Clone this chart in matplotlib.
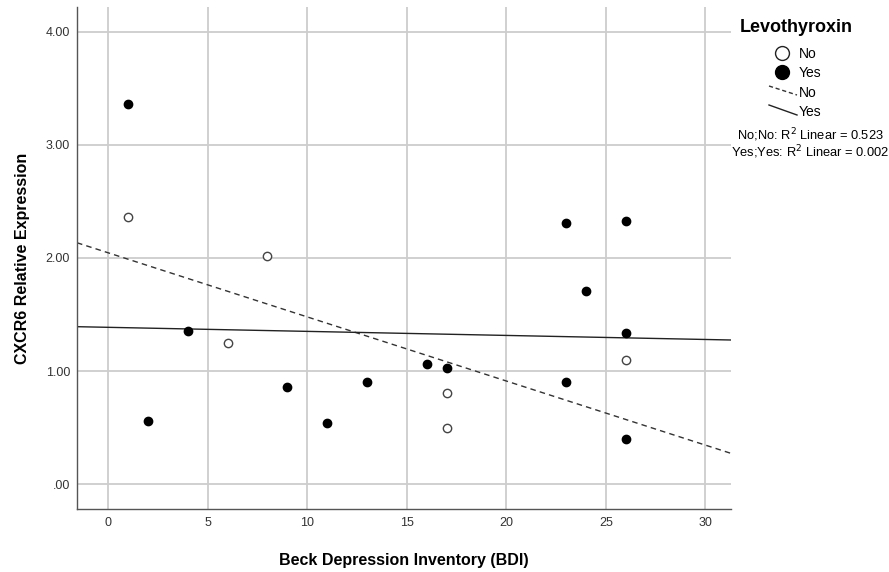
import numpy as np
import matplotlib.pyplot as plt
from matplotlib.lines import Line2D

plt.rcParams['font.family'] = ['Liberation Sans', 'DejaVu Sans']

# BDI score and CXCR6 expression, split by levothyroxin use
bdi_no = [1, 6, 8, 17, 17, 26]
cxcr6_no = [2.36, 1.245, 2.02, 0.81, 0.495, 1.095]

bdi_yes = [1, 2, 4, 9, 11, 13, 16, 17, 23, 23, 24, 26, 26, 26]
cxcr6_yes = [3.36, 0.555, 1.35, 0.855, 0.54, 0.90, 1.06, 1.025, 2.31, 0.90, 1.705, 2.33, 1.335, 0.40]

r2_labels = ['No;No: R$^2$ Linear = 0.523', 'Yes;Yes: R$^2$ Linear = 0.002']

x_ticks = [0, 5, 10, 15, 20, 25, 30]
y_ticks = [0, 1, 2, 3, 4]
y_ticklabels = ['.00', '1.00', '2.00', '3.00', '4.00']

fig = plt.figure(figsize=(8.89, 5.72), dpi=100)
ax = fig.add_axes([0.0866, 0.110, 0.736, 0.878])

xmin, xmax = -1.56, 31.3
ax.set_xlim(xmin, xmax)
ax.set_ylim(-0.22, 4.22)

ax.grid(True, color='#cdcdcd', linewidth=1.3)
ax.set_axisbelow(True)
for side in ['top', 'right']:
    ax.spines[side].set_visible(False)
for side in ['left', 'bottom']:
    ax.spines[side].set_color('#555555')
    ax.spines[side].set_linewidth(1.0)

ax.set_xticks(x_ticks)
ax.set_yticks(y_ticks)
ax.set_yticklabels(y_ticklabels)
ax.tick_params(length=0, labelsize=9, labelcolor='#333333')
ax.tick_params(axis='x', pad=6)
ax.tick_params(axis='y', pad=5)

# linear fits over the full x range
xs = np.array([xmin, xmax])
p_no = np.polyfit(bdi_no, cxcr6_no, 1)
p_yes = np.polyfit(bdi_yes, cxcr6_yes, 1)
ax.plot(xs, np.polyval(p_no, xs), color='#333333', lw=1.0, ls=(0, (4, 3)))
ax.plot(xs, np.polyval(p_yes, xs), color='#222222', lw=1.0)

ax.plot(bdi_no, cxcr6_no, 'o', ms=6, mfc='white', mec='#444444', mew=1.0)
ax.plot(bdi_yes, cxcr6_yes, 'o', ms=6, mfc='black', mec='black')

ax.set_xlabel('Beck Depression Inventory (BDI)', fontsize=11.5, fontweight='bold', labelpad=17)
ax.set_ylabel('CXCR6 Relative Expression', fontsize=11.5, fontweight='bold', labelpad=11)

# legend block on the right
W, H = 889, 572
def fx(px):
    return px / W
def fy(py):
    return 1 - py / H

fig.text(fx(740), fy(27), 'Levothyroxin', fontsize=13, fontweight='bold', va='center')
fig.add_artist(Line2D([fx(782)], [fy(53)], marker='o', ms=10, mfc='white', mec='#222222', mew=1.0))
fig.text(fx(799), fy(54), 'No', fontsize=10, va='center')
fig.add_artist(Line2D([fx(782)], [fy(72)], marker='o', ms=10, mfc='black', mec='black'))
fig.text(fx(799), fy(73), 'Yes', fontsize=10, va='center')
fig.add_artist(Line2D([fx(769), fx(797)], [fy(86), fy(95)], color='#333333', lw=1.0, ls=(0, (3, 2))))
fig.text(fx(799), fy(93), 'No', fontsize=10, va='center')
fig.add_artist(Line2D([fx(769), fx(797)], [fy(105), fy(115)], color='#222222', lw=1.0))
fig.text(fx(799), fy(112), 'Yes', fontsize=10, va='center')
fig.text(fx(810), fy(135), r2_labels[0], fontsize=9.3, ha='center', va='center')
fig.text(fx(810), fy(152), r2_labels[1], fontsize=9.3, ha='center', va='center')

fig.savefig('out.png', dpi=100)
